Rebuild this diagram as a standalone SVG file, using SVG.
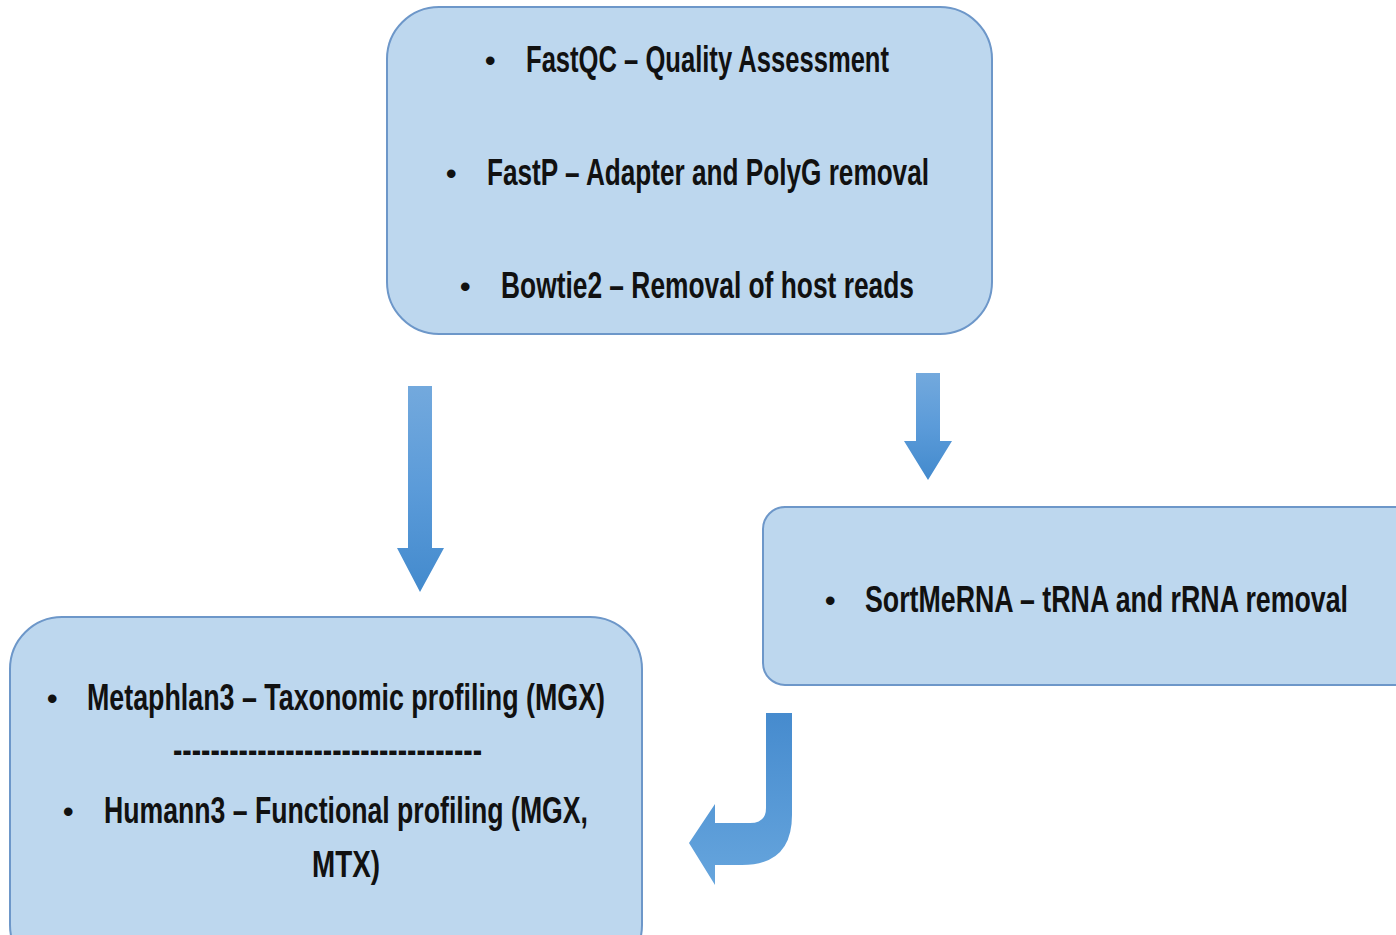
<svg xmlns="http://www.w3.org/2000/svg" width="1396" height="935" viewBox="0 0 1396 935">
<style>
.box{fill:#BDD7EE;stroke:#6D97C9;stroke-width:2}
.t{font-family:"Liberation Sans",Arial,sans-serif;font-weight:bold;font-size:37px;fill:#111}
.b{font-family:"Liberation Sans",Arial,sans-serif;font-weight:bold;font-size:30px;fill:#111}
</style>
<defs>
<linearGradient id="g" x1="0" y1="0" x2="0" y2="1">
<stop offset="0" stop-color="#73A9DD"/>
<stop offset="0.5" stop-color="#5B9BD9"/>
<stop offset="1" stop-color="#438ACD"/>
</linearGradient>
<linearGradient id="g2" x1="0" y1="0" x2="0" y2="1">
<stop offset="0" stop-color="#468BCE"/>
<stop offset="1" stop-color="#66A5DD"/>
</linearGradient>
</defs>
<g id="connectors">
<path d="M408 386 H432 V548 H444 L420 592 L397 548 H408 Z" fill="url(#g)"/>
<path d="M916 373 H940 V441 H952 L928 480 L904 441 H916 Z" fill="url(#g)"/>
<path d="M766 713 L792 713 L792 815 Q792 865 742 865 L715 865 L715 885 L689 843 L715 804 L715 823 L750 823 Q766 823 766 808 Z" fill="url(#g2)"/>
</g>
<g id="node-preprocess">
<rect class="box" x="387" y="7" width="605" height="327" rx="52"/>
<text class="b" x="485" y="71">•</text>
<text class="t" x="526" y="72" textLength="363" lengthAdjust="spacingAndGlyphs">FastQC – Quality Assessment</text>
<text class="b" x="446" y="184">•</text>
<text class="t" x="487" y="185" textLength="442" lengthAdjust="spacingAndGlyphs">FastP – Adapter and PolyG removal</text>
<text class="b" x="460" y="297">•</text>
<text class="t" x="501" y="298" textLength="413" lengthAdjust="spacingAndGlyphs">Bowtie2 – Removal of host reads</text>
</g>
<g id="node-sortmerna">
<rect class="box" x="763" y="507" width="660" height="178" rx="22"/>
<text class="b" x="825" y="611">•</text>
<text class="t" x="865" y="612" textLength="483" lengthAdjust="spacingAndGlyphs">SortMeRNA – tRNA and rRNA removal</text>
</g>
<g id="node-profiling">
<rect class="box" x="10" y="617" width="632" height="360" rx="52"/>
<text class="b" x="47" y="709">•</text>
<text class="t" x="87" y="710" textLength="518" lengthAdjust="spacingAndGlyphs">Metaphlan3 – Taxonomic profiling (MGX)</text>
<text class="t" x="173" y="762" textLength="309" lengthAdjust="spacingAndGlyphs">---------------------------------</text>
<text class="b" x="63" y="822">•</text>
<text class="t" x="104" y="823" textLength="484" lengthAdjust="spacingAndGlyphs">Humann3 – Functional profiling (MGX,</text>
<text class="t" x="312" y="877" textLength="68" lengthAdjust="spacingAndGlyphs">MTX)</text>
</g>
</svg>
